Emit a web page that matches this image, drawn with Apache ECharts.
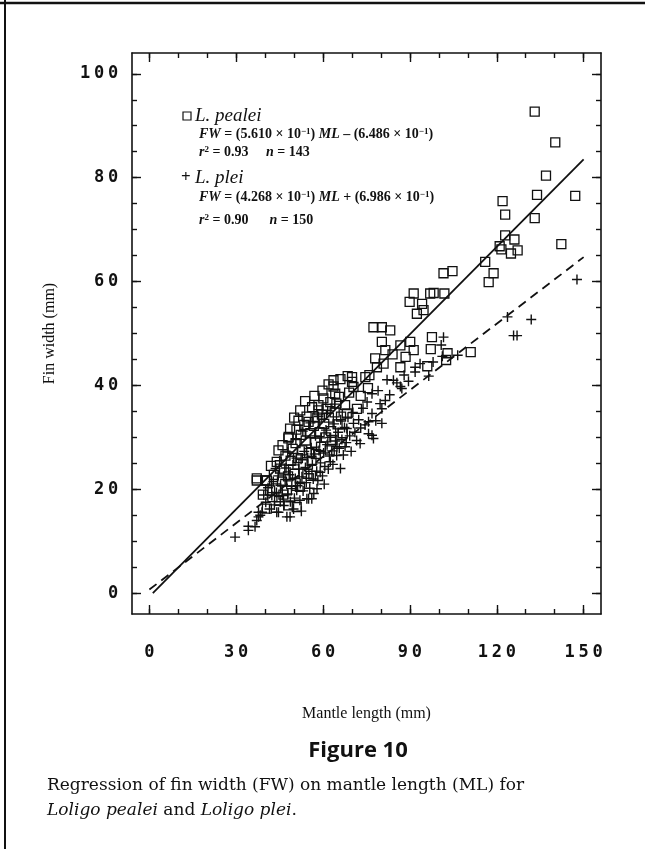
<!DOCTYPE html>
<html>
<head>
<meta charset="utf-8">
<script src="https://cdn.jsdelivr.net/npm/echarts@6/dist/echarts.min.js"></script>
<style>
  html, body { margin: 0; padding: 0; background: #fff; }
  #chart { width: 645px; height: 849px; }
</style>
</head>
<body>
<div id="chart"></div>
<script>
// tick labels
const xLabels = [0, 30, 60, 90, 120, 150];
const yLabels = [0, 20, 40, 60, 80, 100];
const xMinorTicks = [0, 10, 20, 30, 40, 50, 60, 70, 80, 90, 100, 110, 120, 130, 140, 150];
const yMinorTicks = [0, 5, 10, 15, 20, 25, 30, 35, 40, 45, 50, 55, 60, 65, 70, 75, 80, 85, 90, 95, 100];

// L. pealei (squares): [mantle length, fin width]
const pealeiPoints = [
  [133.1, 92.7], [140.2, 86.8], [137.0, 80.4], [133.9, 76.7], [147.1, 76.5], [122.0, 75.5],
  [122.9, 72.9], [133.1, 72.2], [122.9, 68.9], [126.1, 68.1], [121.0, 66.8], [121.6, 66.2],
  [124.9, 65.4], [127.2, 66.0], [142.3, 67.2], [116.0, 63.8], [118.9, 61.6], [117.2, 59.9],
  [101.6, 61.6], [104.7, 62.0], [97.0, 57.7], [98.2, 57.8], [101.9, 57.7], [94.2, 55.7],
  [94.7, 54.5], [97.6, 49.3],
  [74.6, 41.6], [77.4, 51.2], [80.3, 51.2], [83.2, 50.6], [80.3, 48.4], [86.7, 47.7],
  [90.1, 48.4], [91.3, 46.8], [81.5, 46.8], [78.0, 45.2], [78.6, 43.5], [80.9, 44.2],
  [91.3, 57.7], [89.9, 56.1], [92.4, 53.8], [86.7, 43.5], [96.0, 43.7], [103.0, 46.2],
  [102.5, 44.9], [111.0, 46.4], [75.5, 39.5], [84.0, 46.0], [66.0, 41.2], [68.5, 41.8],
  [73.0, 38.0], [76.0, 42.0], [88.5, 45.5], [97.2, 47.0],
  [37.1, 22.1], [37.1, 21.7], [40.0, 21.7], [40.6, 21.7], [41.7, 19.8], [40.6, 16.3],
  [42.5, 18.5], [43.0, 22.8], [44.0, 25.3], [44.6, 27.5], [45.2, 24.0], [45.8, 21.5],
  [46.3, 19.0], [47.5, 19.8], [48.1, 16.9], [50.9, 16.6], [48.0, 29.8], [48.6, 31.7],
  [48.1, 30.1], [47.0, 26.5], [46.5, 23.8], [47.9, 22.5], [48.8, 25.5], [49.5, 27.8],
  [50.2, 23.0], [50.5, 28.9], [50.8, 31.5], [51.3, 26.0], [51.5, 33.2], [52.1, 35.2],
  [52.3, 30.5], [52.8, 27.5], [53.2, 24.8], [53.5, 32.4], [54.0, 29.4], [54.3, 34.0],
  [55.0, 33.0], [55.2, 27.0], [55.6, 30.8], [56.0, 25.5], [56.2, 35.8], [56.8, 32.2],
  [57.3, 29.0], [57.5, 26.8], [58.0, 33.8], [58.4, 35.2], [58.4, 36.2], [58.8, 31.0],
  [59.3, 28.2], [59.6, 34.4], [60.1, 37.5], [60.4, 32.6], [60.8, 30.0], [61.2, 35.5],
  [61.9, 40.2], [62.0, 33.8], [62.5, 36.8], [62.8, 31.2], [63.2, 29.5], [63.6, 41.0],
  [63.6, 39.8], [64.0, 34.8], [64.2, 38.4], [64.6, 36.5], [65.0, 32.5], [65.5, 37.8],
  [66.2, 34.0], [66.8, 30.8], [67.6, 36.2], [68.2, 34.6], [69.0, 38.6], [70.0, 41.6],
  [70.0, 40.7], [70.5, 39.7], [71.7, 35.5], [43.8, 20.2], [49.0, 21.0], [44.8, 17.8],
  [52.0, 20.5], [54.6, 23.0], [39.2, 19.0], [42.0, 24.5], [46.0, 28.5], [57.0, 38.0],
  [53.8, 37.0], [59.8, 39.0], [62.3, 27.5], [50.0, 33.8], [55.8, 22.6]
];

// L. plei (plus signs)
const pleiPoints = [
  [29.6, 10.8], [34.2, 12.9], [34.2, 12.1], [36.5, 12.8], [37.1, 14.0], [38.3, 15.0],
  [38.9, 15.6], [37.7, 15.6], [37.7, 14.7], [44.0, 15.6], [44.6, 15.6], [48.6, 14.7],
  [47.5, 14.7], [55.0, 18.2], [56.1, 18.2], [54.4, 18.2], [57.9, 20.1], [45.2, 17.6],
  [52.1, 21.1], [50.9, 19.8], [59.0, 23.3], [62.5, 25.3], [64.8, 28.2], [67.6, 28.2],
  [72.8, 28.8], [75.7, 30.7], [76.9, 30.4], [77.4, 29.8], [68.2, 31.7], [70.5, 32.7],
  [75.7, 33.0], [80.3, 32.7], [76.9, 34.6], [81.5, 37.1], [79.7, 36.5], [80.3, 35.5],
  [76.9, 38.4], [86.7, 39.8], [87.2, 39.4], [82.1, 41.1], [84.3, 41.0], [91.8, 43.5],
  [91.8, 42.6], [100.8, 47.8], [101.2, 45.6], [106.5, 45.8], [101.6, 49.3], [123.7, 53.2],
  [131.9, 52.7], [125.8, 49.6], [127.0, 49.6], [147.7, 60.4],
  [40.2, 17.5], [41.5, 16.2], [42.3, 18.8], [43.2, 17.0], [39.5, 18.9], [41.0, 20.3],
  [42.8, 21.5], [43.9, 19.4], [44.5, 22.6], [45.3, 20.8], [45.9, 18.8], [46.4, 16.9],
  [46.9, 21.9], [47.2, 24.1], [47.8, 19.1], [48.3, 22.8], [48.7, 17.6], [49.2, 20.6],
  [49.6, 24.7], [50.1, 18.3], [50.4, 22.1], [50.8, 26.0], [51.2, 20.7], [51.6, 23.9],
  [52.0, 17.9], [52.4, 25.8], [52.7, 22.4], [53.1, 19.7], [53.5, 27.3], [53.9, 24.2],
  [54.2, 21.3], [54.7, 26.1], [55.1, 23.0], [55.4, 20.2], [55.9, 28.0], [56.3, 24.8],
  [56.6, 22.0], [57.1, 26.8], [57.4, 30.3], [57.8, 23.5], [58.2, 21.7], [58.6, 27.5],
  [59.1, 25.1], [59.4, 29.9], [59.8, 22.6], [60.2, 27.0], [60.6, 24.4], [61.0, 31.4],
  [61.4, 28.6], [61.8, 23.9], [62.2, 26.4], [62.6, 30.0], [63.0, 27.4], [63.4, 24.8],
  [63.8, 32.6], [64.3, 29.3], [64.7, 26.5], [65.2, 31.0], [65.6, 27.9], [66.1, 33.4],
  [66.5, 29.6], [67.0, 26.6], [67.4, 31.9], [68.0, 29.0], [68.6, 33.9], [69.2, 30.3],
  [69.7, 27.3], [70.3, 34.8], [71.0, 31.0], [71.6, 29.4], [72.3, 33.4], [73.0, 31.8],
  [73.8, 35.6], [74.5, 32.4], [75.2, 36.8], [78.2, 33.2], [79.0, 39.0], [83.0, 38.2],
  [85.5, 40.5], [88.0, 42.0], [89.5, 40.8], [93.5, 44.2], [96.5, 41.8], [98.0, 44.5],
  [45.0, 25.5], [47.8, 27.2], [50.6, 29.6], [53.0, 31.2], [55.6, 32.8], [58.4, 34.0],
  [43.6, 24.0], [61.6, 35.2], [64.0, 36.4], [52.5, 15.8], [49.8, 16.2], [56.8, 19.2],
  [60.4, 21.0], [66.0, 24.0]
];

// regression line end points
const pealeiFit = [[1.2, 0], [150, 83.5]];
const pleiFit = [[0, 0.7], [150, 64.7]];

const chart = echarts.init(document.getElementById('chart'));

const plusPath = 'path://M4.3,0h1.4v4.3h4.3v1.4h-4.3v4.3h-1.4v-4.3h-4.3v-1.4h4.3z';

function digits(v) {
  return String(v).split('').map(c => '{d|' + c + '}').join('');
}
const digitRich = {
  d: { width: 14, align: 'center', fontFamily: 'DejaVu Sans Mono', fontWeight: 'bold', fontSize: 17, color: '#111' }
};

function xAxisDef(pos, ticks, len, main) {
  return {
    type: 'value', position: pos, min: -6, max: 156,
    axisLine: { show: main, onZero: false, lineStyle: { color: '#111', width: 1.6 } },
    axisTick: { show: true, inside: true, length: len, customValues: ticks, lineStyle: { color: '#111', width: 1.4 } },
    axisLabel: main && pos === 'bottom'
      ? { show: true, customValues: xLabels, margin: 30, formatter: digits, rich: digitRich }
      : { show: false },
    splitLine: { show: false },
    name: main && pos === 'bottom' ? 'Mantle length (mm)' : '',
    nameLocation: 'middle', nameGap: 92,
    nameTextStyle: { fontFamily: 'Liberation Serif', fontSize: 16, color: '#111' }
  };
}
function yAxisDef(pos, ticks, len, main) {
  return {
    type: 'value', position: pos, min: -4, max: 104,
    axisLine: { show: main, onZero: false, lineStyle: { color: '#111', width: 1.6 } },
    axisTick: { show: true, inside: true, length: len, customValues: ticks, lineStyle: { color: '#111', width: 1.4 } },
    axisLabel: main && pos === 'left'
      ? { show: true, customValues: yLabels, margin: 12, formatter: digits, rich: digitRich }
      : { show: false },
    splitLine: { show: false },
    name: main && pos === 'left' ? 'Fin width (mm)' : '',
    nameLocation: 'middle', nameGap: 74,
    nameTextStyle: { fontFamily: 'Liberation Serif', fontSize: 16, color: '#111' }
  };
}

const serifFam = 'Liberation Serif';
const eqRich = {
  i: { fontFamily: serifFam, fontSize: 14, fontWeight: 'bold', fontStyle: 'italic', fill: '#111' },
  s: { fontFamily: serifFam, fontSize: 9, fontWeight: 'bold', fill: '#111', verticalAlign: 'top' }
};
function eqText(x, y, text) {
  return {
    type: 'text',
    style: {
      x: x, y: y, text: text, rich: eqRich, fill: '#111',
      fontFamily: serifFam, fontSize: 14, fontWeight: 'bold', textVerticalAlign: 'middle'
    }
  };
}

chart.setOption({
  backgroundColor: '#fff',
  animation: false,
  grid: { left: 132, top: 53, right: 44, bottom: 235 },
  xAxis: [
    xAxisDef('bottom', xLabels, 9, true),
    xAxisDef('bottom', xMinorTicks, 5, false),
    xAxisDef('top', xLabels, 9, true),
    xAxisDef('top', xMinorTicks, 5, false)
  ],
  yAxis: [
    yAxisDef('left', yLabels, 9, true),
    yAxisDef('left', yMinorTicks, 5, false),
    yAxisDef('right', yLabels, 9, true),
    yAxisDef('right', yMinorTicks, 5, false)
  ],
  series: [
    {
      name: 'L. pealei fit', type: 'line', data: pealeiFit, symbol: 'none',
      lineStyle: { color: '#111', width: 1.8, type: 'solid' }, z: 1
    },
    {
      name: 'L. plei fit', type: 'line', data: pleiFit, symbol: 'none',
      lineStyle: { color: '#111', width: 1.8, type: [9, 6] }, z: 1
    },
    {
      name: 'L. pealei', type: 'scatter', data: pealeiPoints,
      symbol: 'rect', symbolSize: 9,
      itemStyle: { color: 'rgba(0,0,0,0)', borderColor: '#111', borderWidth: 1.3, opacity: 1 }, z: 2
    },
    {
      name: 'L. plei', type: 'scatter', data: pleiPoints,
      symbol: plusPath, symbolSize: 10,
      itemStyle: { color: '#111', opacity: 1 }, z: 2
    }
  ],
  graphic: [
    // page frame
    { type: 'line', shape: { x1: 0, y1: 3, x2: 645, y2: 3 }, style: { stroke: '#111', lineWidth: 2.5 } },
    { type: 'line', shape: { x1: 5, y1: 0, x2: 5, y2: 849 }, style: { stroke: '#111', lineWidth: 2 } },
    // legend block
    { type: 'rect', shape: { x: 183, y: 112, width: 8, height: 8 }, style: { fill: 'none', stroke: '#111', lineWidth: 1.2 } },
    { type: 'text', style: { x: 195, y: 116, text: 'L. pealei', fontFamily: serifFam, fontSize: 19, fontStyle: 'italic', fill: '#111', textVerticalAlign: 'middle' } },
    eqText(199, 134, '{i|FW} = (5.610 × 10{s|−1}) {i|ML} – (6.486 × 10{s|−1})'),
    eqText(199, 152, '{i|r}{s|2} = 0.93     {i|n} = 143'),
    { type: 'text', style: { x: 181, y: 178, text: '+', fontFamily: serifFam, fontSize: 17, fontWeight: 'bold', fill: '#111', textVerticalAlign: 'middle' } },
    { type: 'text', style: { x: 195, y: 178, text: 'L. plei', fontFamily: serifFam, fontSize: 19, fontStyle: 'italic', fill: '#111', textVerticalAlign: 'middle' } },
    eqText(199, 197, '{i|FW} = (4.268 × 10{s|−1}) {i|ML} + (6.986 × 10{s|−1})'),
    eqText(199, 220, '{i|r}{s|2} = 0.90      {i|n} = 150'),
    // caption
    { type: 'text', style: { x: 358, y: 751, text: 'Figure 10', font: 'bold 22px "Open Sans", sans-serif', fill: '#111', textAlign: 'center', textVerticalAlign: 'middle' } },
    { type: 'text', style: { x: 47, y: 786, text: 'Regression of fin width (FW) on mantle length (ML) for', font: '17px "DejaVu Serif", serif', fill: '#111', textVerticalAlign: 'middle' } },
    { type: 'text', style: { x: 47, y: 811,
      text: '{i|Loligo pealei} and {i|Loligo plei}.',
      font: '17px "DejaVu Serif", serif', fill: '#111', textVerticalAlign: 'middle',
      rich: { i: { fontFamily: 'DejaVu Serif', fontSize: 17, fontStyle: 'italic', fill: '#111' } } } }
  ]
});
</script>
</body>
</html>
